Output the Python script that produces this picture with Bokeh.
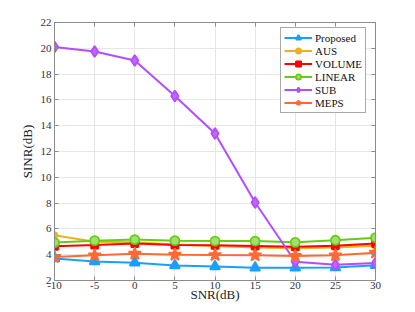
from bokeh.plotting import figure
from bokeh.models import Range1d, LinearAxis, FixedTicker, Legend, LegendItem
from bokeh.embed import file_html
from bokeh.resources import INLINE

snr = [-10, -5, 0, 5, 10, 15, 20, 25, 30]
proposed = [3.71, 3.48, 3.38, 3.17, 3.09, 2.99, 2.99, 3.01, 3.19]
aus = [5.51, 5.0, 4.96, 4.8, 4.68, 4.56, 4.5, 4.56, 4.7]
volume = [4.65, 4.75, 4.86, 4.75, 4.73, 4.68, 4.62, 4.7, 4.86]
linear = [4.94, 5.09, 5.17, 5.09, 5.06, 5.06, 4.96, 5.12, 5.32]
sub = [20.1, 19.75, 19.05, 16.3, 13.4, 8.05, 3.45, 3.22, 3.35]
meps = [3.82, 3.95, 4.08, 4.0, 3.97, 3.95, 3.9, 3.95, 4.16]

xticks = [-10, -5, 0, 5, 10, 15, 20, 25, 30]
yticks = [2, 4, 6, 8, 10, 12, 14, 16, 18, 20, 22]

FONT = "Liberation Serif"
AX = "#8c8c8c"

p = figure(width=399, height=304, output_backend="svg", toolbar_location=None,
           x_range=Range1d(-10, 30), y_range=Range1d(2, 22),
           min_border_left=54, min_border_top=22, min_border_right=24, min_border_bottom=20)
p.outline_line_color = AX
p.background_fill_color = "white"
p.border_fill_color = "white"

for ax in (p.xaxis[0], p.yaxis[0]):
    ax.major_tick_in = 4
    ax.major_tick_out = 0
    ax.minor_tick_line_color = None
    ax.axis_line_color = AX
    ax.major_tick_line_color = AX
    ax.major_label_text_font = FONT
    ax.major_label_text_font_size = "11px"
    ax.major_label_text_color = "#333333"
    ax.axis_label_text_font = FONT
    ax.axis_label_text_font_size = "13px"
    ax.axis_label_text_font_style = "normal"
    ax.axis_label_text_color = "#222222"
p.xaxis.ticker = FixedTicker(ticks=xticks)
p.yaxis.ticker = FixedTicker(ticks=yticks)
p.xaxis.major_label_overrides = {t: str(t) for t in xticks}
p.yaxis.major_label_overrides = {t: str(t) for t in yticks}
p.xaxis.axis_label = "SNR(dB)"
p.yaxis.axis_label = "SINR(dB)"
p.xaxis.major_label_standoff = 1
p.xaxis.axis_label_standoff = -5
p.yaxis.major_label_standoff = 3
p.yaxis.axis_label_standoff = 3

for loc, tick in (("above", xticks), ("right", yticks)):
    a = LinearAxis(ticker=FixedTicker(ticks=tick), major_tick_in=4, major_tick_out=0,
                   minor_tick_line_color=None, axis_line_color=AX, major_tick_line_color=AX,
                   major_label_text_color=None, major_label_standoff=0)
    p.add_layout(a, loc)

p.xgrid.ticker = FixedTicker(ticks=xticks)
p.ygrid.ticker = FixedTicker(ticks=yticks)
p.grid.grid_line_color = "#e6e6e6"
p.grid.grid_line_width = 1

LW = 2.0
c_prop = "#1a9fff"
c_aus = "#edb120"
c_vol = "#ff0000"
c_lin = "#66cc11"
c_sub = "#b34dff"
c_meps = "#ff6a33"

items = []
def series(y, color, marker, size, label, fill=None, lw=LW):
    r1 = p.line(snr, y, line_color=color, line_width=lw)
    r2 = p.scatter(snr, y, marker=marker, size=size, line_color=color,
                   fill_color=fill if fill else color, line_width=1.8)
    items.append(LegendItem(label=label, renderers=[r1, r2]))

series(proposed, c_prop, "triangle", 10, "Proposed")
series(aus, c_aus, "circle", 6, "AUS")
series(volume, c_vol, "square", 7, "VOLUME")
series(linear, c_lin, "circle", 9, "LINEAR", fill="#a0e070")
series(sub, c_sub, "diamond", 11, "SUB", fill="#bf66ff")
series(meps, c_meps, "star", 13, "MEPS")

legend = Legend(items=items, location=(226, 167), orientation="vertical",
                label_text_font=FONT, label_text_font_size="11px", label_text_color="#111111",
                glyph_width=28, glyph_height=13, label_height=13, label_width=10, spacing=0,
                padding=3, margin=0, label_standoff=3,
                border_line_color="#555555", border_line_width=1,
                background_fill_color="white", background_fill_alpha=1)
p.add_layout(legend, "center")

open("out.html", "w").write(file_html(p, INLINE))
